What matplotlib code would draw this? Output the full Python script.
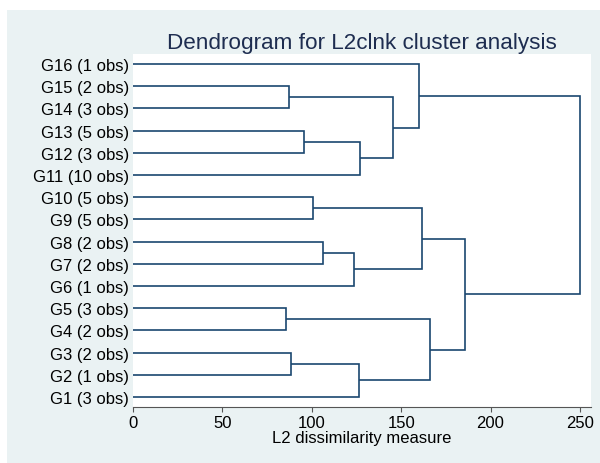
import matplotlib
matplotlib.use('Agg')
import matplotlib.pyplot as plt
from matplotlib.patches import Rectangle

plt.rcParams['font.family'] = ['Liberation Sans', 'DejaVu Sans']

# leaves, bottom to top
groups = ['G1', 'G2', 'G3', 'G4', 'G5', 'G6', 'G7', 'G8',
          'G9', 'G10', 'G11', 'G12', 'G13', 'G14', 'G15', 'G16']
obs = [3, 1, 2, 2, 3, 1, 2, 2, 5, 5, 10, 3, 5, 3, 2, 1]

# merges: cluster Ck is formed by step k (1-based)
merge_left = ['G5', 'G15', 'G3', 'G13', 'G10', 'G8', 'C6', 'C4',
              'C3', 'C2', 'G16', 'C5', 'C1', 'C12', 'C11']
merge_right = ['G4', 'G14', 'G2', 'G12', 'G9', 'G7', 'G6', 'G11',
               'G1', 'C8', 'C10', 'C7', 'C9', 'C13', 'C14']
merge_height = [85.6, 87.4, 88.2, 95.8, 100.8, 106.3, 123.4, 127.1,
                126.4, 145.6, 160.1, 161.5, 166.2, 185.7, 250.0]

line_col = '#1a476f'
bg_col = '#eaf2f3'

fig = plt.figure(figsize=(6, 4.64), dpi=100)
fig.patch.set_facecolor('white')
fig.patches.append(Rectangle((7 / 600, 0), 593 / 600, 453 / 464,
                             transform=fig.transFigure, facecolor=bg_col,
                             edgecolor='none', zorder=-10))

ax = fig.add_axes([133 / 600, 1 - 408 / 464, 458 / 600, 353 / 464])
ax.set_facecolor('white')

pos = {}
for i, g in enumerate(groups):
    pos[g] = (0.0, i + 1)

for k, (a, b, h) in enumerate(zip(merge_left, merge_right, merge_height)):
    xa, ya = pos[a]
    xb, yb = pos[b]
    ax.plot([xa, h, h, xb], [ya, ya, yb, yb], color=line_col, lw=1.2,
            solid_joinstyle='miter', solid_capstyle='butt')
    pos['C%d' % (k + 1)] = (h, (ya + yb) / 2)

ax.set_xlim(0, 256.2)
ax.set_ylim(0.55, 16.45)

ax.set_yticks(range(1, len(groups) + 1))
ax.set_yticklabels(['%s (%d obs)' % (g, n) for g, n in zip(groups, obs)],
                   fontsize=12)
ax.tick_params(axis='y', length=0, pad=3)

ax.set_xticks([0, 50, 100, 150, 200, 250])
ax.tick_params(axis='x', length=3.5, width=0.8, color='#555555',
               labelsize=12, pad=2.5)
ax.set_xlabel('L2 dissimilarity measure', fontsize=12, labelpad=0)

for s in ['top', 'right', 'left']:
    ax.spines[s].set_visible(False)
ax.spines['bottom'].set_color('#555555')
ax.spines['bottom'].set_linewidth(0.8)

fig.text(0.6033, 1 - 44 / 464, 'Dendrogram for L2clnk cluster analysis',
         ha='center', va='center', fontsize=16.2, color='#1e2d50')

fig.savefig('out.png', dpi=100)
